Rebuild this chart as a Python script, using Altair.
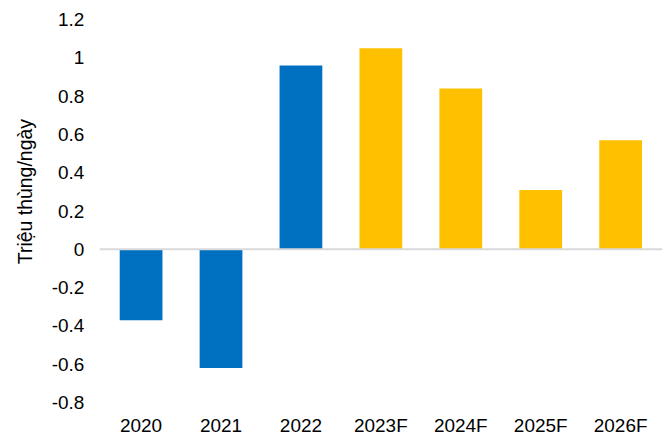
import altair as alt
import pandas as pd

years = ["2020", "2021", "2022", "2023F", "2024F", "2025F", "2026F"]
values = [-0.37, -0.62, 0.96, 1.05, 0.84, 0.31, 0.57]
kinds = ["Thực tế", "Thực tế", "Thực tế", "Dự báo", "Dự báo", "Dự báo", "Dự báo"]
y_ticks = [-0.8, -0.6, -0.4, -0.2, 0, 0.2, 0.4, 0.6, 0.8, 1.0, 1.2]
y_title = "Triệu thùng/ngày"

df = pd.DataFrame({"year": years, "value": values, "kind": kinds})
zero_df = pd.DataFrame({"value": [0]})

FONT = "Liberation Sans"

y_axis = alt.Axis(values=y_ticks, title=y_title, grid=False, domain=False,
                  ticks=False, labelPadding=16, labelFontSize=19,
                  labelFont=FONT, labelColor="#000000", labelOverlap=False,
                  labelExpr="'' + round(datum.value*10)/10",
                  titleFont=FONT, titleFontSize=19.5, titleFontWeight="normal",
                  titleColor="#000000", titleAngle=-90,
                  titleX=-68, titleY=172, titleAlign="center",
                  titleBaseline="alphabetic")
y_scale = alt.Scale(domain=[-0.8, 1.2], nice=False, zero=False)

bars = alt.Chart(df).mark_bar().encode(
    x=alt.X("year:N", sort=years,
            scale=alt.Scale(paddingInner=0.465, paddingOuter=0.25),
            axis=alt.Axis(title=None, labelAngle=0, domain=False, ticks=False,
                          labelPadding=14, labelFontSize=19, labelFont=FONT,
                          labelColor="#000000", grid=False, labelOverlap=False)),
    y=alt.Y("value:Q", scale=y_scale, axis=y_axis),
    color=alt.Color("kind:N",
                    scale=alt.Scale(domain=["Thực tế", "Dự báo"],
                                    range=["#0070C0", "#FFC000"]),
                    legend=None),
)

zero = alt.Chart(zero_df).mark_rule(color="#D9D9D9", strokeWidth=2).encode(
    y=alt.Y("value:Q", scale=y_scale, axis=y_axis)
)

chart = alt.layer(bars, zero).properties(
    width=564, height=384,
    background="white",
    padding={"left": 92, "top": 11, "right": 0, "bottom": 40},
    autosize=alt.AutoSizeParams(type="none"),
).configure_view(stroke=None).configure_axis(
    grid=False, domain=False, ticks=False, labelOverlap=False
)

chart.save("out.html", embed_options={"renderer": "svg", "actions": False})
